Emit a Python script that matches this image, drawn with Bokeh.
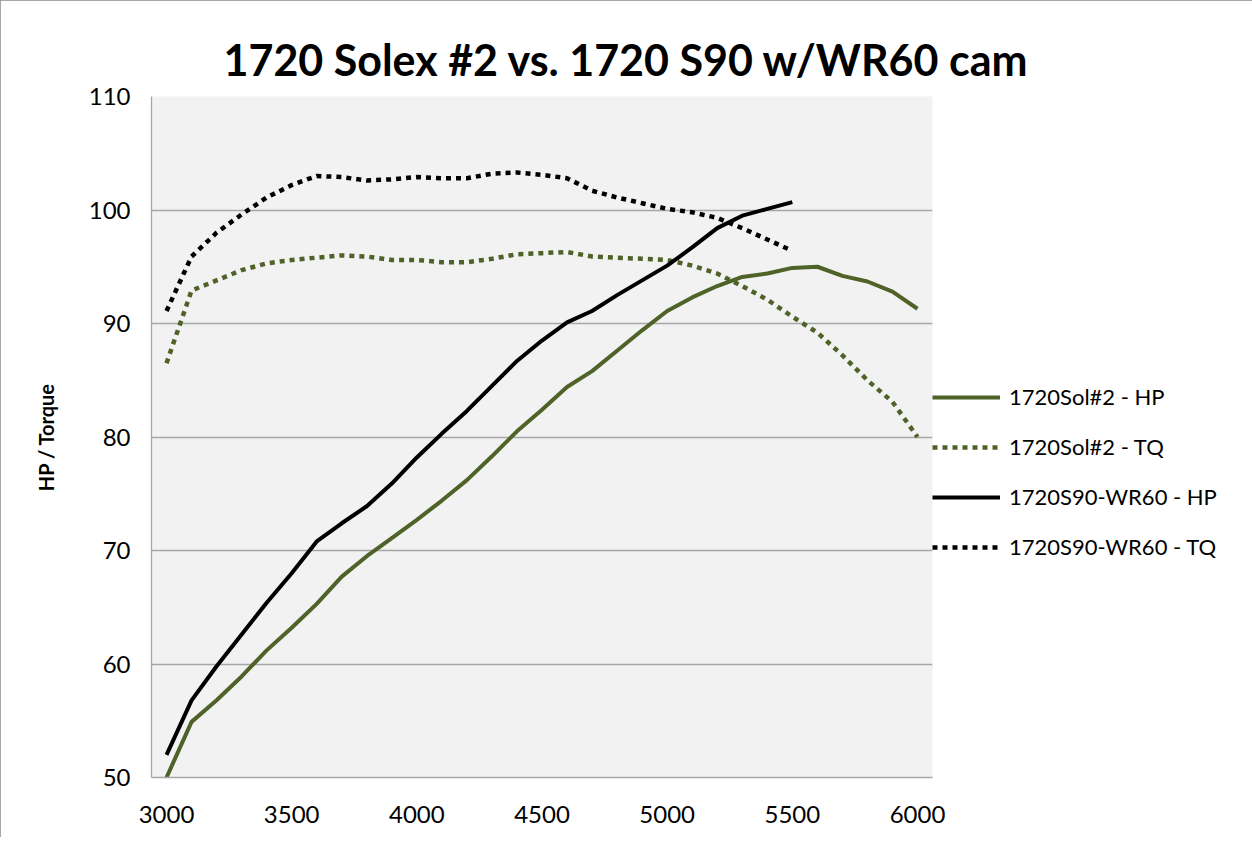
from bokeh.plotting import figure
from bokeh.models import Range1d, FixedTicker, Legend, LegendItem, Title
from bokeh.embed import file_html
from bokeh.resources import INLINE

# ---- data ----
rpm_sol = [3000, 3100, 3200, 3300, 3400, 3500, 3600, 3700, 3800, 3900, 4000,
           4100, 4200, 4300, 4400, 4500, 4600, 4700, 4800, 4900, 5000,
           5100, 5200, 5300, 5400, 5500, 5600, 5700, 5800, 5900, 6000]
sol_hp = [50.0, 54.9, 56.8, 58.9, 61.2, 63.2, 65.3, 67.7, 69.5, 71.1, 72.7,
          74.4, 76.2, 78.3, 80.5, 82.4, 84.4, 85.8, 87.6, 89.4, 91.1,
          92.3, 93.3, 94.1, 94.4, 94.9, 95.0, 94.2, 93.7, 92.8, 91.3]
sol_tq = [86.5, 92.9, 93.8, 94.7, 95.3, 95.6, 95.8, 96.0, 95.9, 95.6, 95.6,
          95.4, 95.4, 95.7, 96.1, 96.2, 96.3, 95.9, 95.8, 95.7, 95.6,
          95.1, 94.4, 93.3, 92.1, 90.6, 89.2, 87.2, 85.0, 83.1, 80.0]

rpm_s90 = [3000, 3100, 3200, 3300, 3400, 3500, 3600, 3700, 3800, 3900, 4000,
           4100, 4200, 4300, 4400, 4500, 4600, 4700, 4800, 4900, 5000,
           5100, 5200, 5300, 5400, 5500]
s90_hp = [52.0, 56.8, 59.8, 62.6, 65.4, 68.0, 70.8, 72.4, 73.9, 75.9, 78.2,
          80.3, 82.3, 84.5, 86.7, 88.5, 90.1, 91.1, 92.5, 93.8, 95.1,
          96.7, 98.4, 99.5, 100.1, 100.7]
s90_tq = [91.1, 95.9, 98.0, 99.6, 101.1, 102.2, 103.0, 102.9, 102.6, 102.7, 102.9,
          102.8, 102.8, 103.2, 103.3, 103.1, 102.8, 101.7, 101.1, 100.6, 100.1,
          99.8, 99.3, 98.4, 97.4, 96.4]

x_ticks = [3000, 3500, 4000, 4500, 5000, 5500, 6000]
y_ticks = [50, 60, 70, 80, 90, 100, 110]

series_names = ["1720Sol#2 - HP", "1720Sol#2 - TQ", "1720S90-WR60 - HP", "1720S90-WR60 - TQ"]
title_text = "1720 Solex #2 vs. 1720 S90 w/WR60 cam"
y_label = "HP / Torque"

GREEN = "#4F6228"
BLACK = "#000000"
GRID = "#A6A6A6"
FONT = "Lato"

p = figure(frame_width=781, frame_height=681,
           min_border_left=151, min_border_right=304, min_border_top=96, min_border_bottom=60,
           x_range=Range1d(2940, 6060), y_range=Range1d(50, 110),
           output_backend="svg", toolbar_location=None)
p.styles = {"outline": "1px solid #8A8A8A", "outline-offset": "-1px"}

p.background_fill_color = "#F2F2F2"
p.border_fill_color = "white"
p.outline_line_color = None

t = Title(text=title_text, align="left", offset=72, text_font=FONT,
          text_font_size="43px", text_font_style="bold", text_color="black", standoff=23)
p.add_layout(t, "above")

p.xaxis.ticker = FixedTicker(ticks=x_ticks)
p.yaxis.ticker = FixedTicker(ticks=y_ticks)
p.xgrid.grid_line_color = None
p.ygrid.grid_line_color = GRID
p.ygrid.grid_line_width = 1.3

for ax in (p.xaxis[0], p.yaxis[0]):
    ax.axis_line_color = GRID
    ax.axis_line_width = 1.3
    ax.major_tick_line_color = None
    ax.minor_tick_line_color = None
    ax.major_label_text_font = FONT
    ax.major_label_text_font_size = "24px"
    ax.major_label_text_color = "black"

p.xaxis.major_label_standoff = 22
p.yaxis.major_label_standoff = 15
p.yaxis.axis_label = y_label
p.yaxis.axis_label_text_font = FONT
p.yaxis.axis_label_text_font_size = "20px"
p.yaxis.axis_label_text_font_style = "bold"
p.yaxis.axis_label_text_color = "black"
p.yaxis.axis_label_standoff = 28

r1 = p.line(rpm_sol, sol_hp, line_color=GREEN, line_width=4, line_join="round")
r2 = p.line(rpm_sol, sol_tq, line_color=GREEN, line_width=4.5, line_dash="5 5", line_join="round")
r3 = p.line(rpm_s90, s90_hp, line_color=BLACK, line_width=4, line_join="round")
r4 = p.line(rpm_s90, s90_tq, line_color=BLACK, line_width=4.5, line_dash="5 5", line_join="round")

legend = Legend(items=[LegendItem(label=series_names[0], renderers=[r1]),
                       LegendItem(label=series_names[1], renderers=[r2]),
                       LegendItem(label=series_names[2], renderers=[r3]),
                       LegendItem(label=series_names[3], renderers=[r4])],
                location=(0, 217), padding=0, margin=0, spacing=23,
                glyph_width=68, glyph_height=26, label_height=26, label_standoff=9,
                label_text_font=FONT, label_text_font_size="22px", label_text_color="black",
                border_line_color=None, background_fill_alpha=0)
p.add_layout(legend, "right")

open("out.html", "w").write(file_html(p, INLINE))
